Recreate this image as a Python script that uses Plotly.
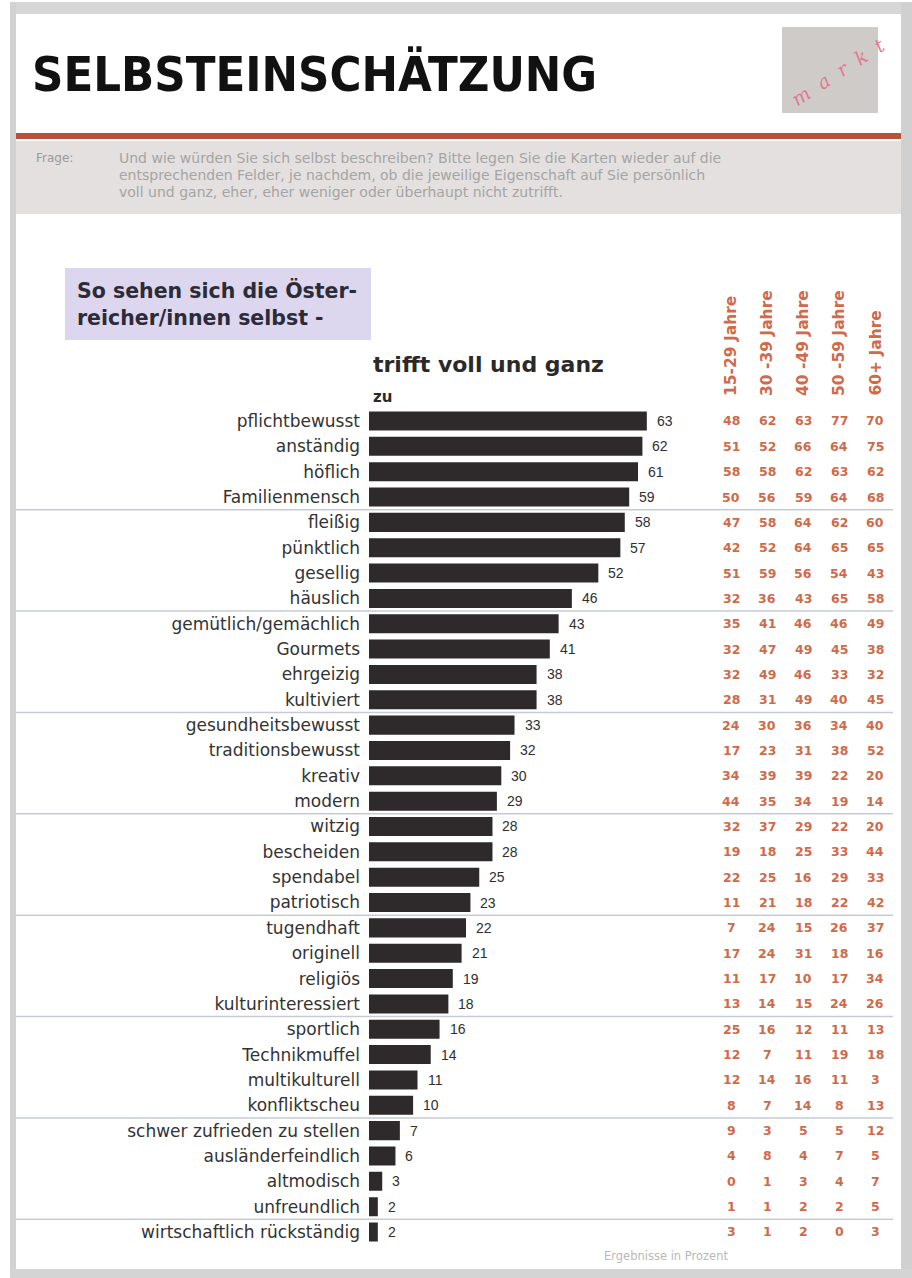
import plotly.graph_objects as go

# ---- data -------------------------------------------------------------
categories = ["pflichtbewusst", "anständig", "höflich", "Familienmensch", "fleißig",
              "pünktlich", "gesellig", "häuslich", "gemütlich/gemächlich", "Gourmets",
              "ehrgeizig", "kultiviert", "gesundheitsbewusst", "traditionsbewusst",
              "kreativ", "modern", "witzig", "bescheiden", "spendabel", "patriotisch",
              "tugendhaft", "originell", "religiös", "kulturinteressiert", "sportlich",
              "Technikmuffel", "multikulturell", "konfliktscheu",
              "schwer zufrieden zu stellen", "ausländerfeindlich", "altmodisch",
              "unfreundlich", "wirtschaftlich rückständig"]
total = [63, 62, 61, 59, 58, 57, 52, 46, 43, 41, 38, 38, 33, 32, 30, 29, 28, 28, 25,
         23, 22, 21, 19, 18, 16, 14, 11, 10, 7, 6, 3, 2, 2]

age_groups = ["15-29 Jahre", "30 -39 Jahre", "40 -49 Jahre", "50 -59 Jahre", "60+ Jahre"]
age_15_29 = [48, 51, 58, 50, 47, 42, 51, 32, 35, 32, 32, 28, 24, 17, 34, 44, 32, 19, 22,
             11, 7, 17, 11, 13, 25, 12, 12, 8, 9, 4, 0, 1, 3]
age_30_39 = [62, 52, 58, 56, 58, 52, 59, 36, 41, 47, 49, 31, 30, 23, 39, 35, 37, 18, 25,
             21, 24, 24, 17, 14, 16, 7, 14, 7, 3, 8, 1, 1, 1]
age_40_49 = [63, 66, 62, 59, 64, 64, 56, 43, 46, 49, 46, 49, 36, 31, 39, 34, 29, 25, 16,
             18, 15, 31, 10, 15, 12, 11, 16, 14, 5, 4, 3, 2, 2]
age_50_59 = [77, 64, 63, 64, 62, 65, 54, 65, 46, 45, 33, 40, 34, 38, 22, 19, 22, 33, 29,
             22, 26, 18, 17, 24, 11, 19, 11, 8, 5, 7, 4, 2, 0]
age_60_plus = [70, 75, 62, 68, 60, 65, 43, 58, 49, 38, 32, 45, 40, 52, 20, 14, 20, 44, 33,
               42, 37, 16, 34, 26, 13, 18, 3, 13, 12, 5, 7, 5, 3]
age_values = [age_15_29, age_30_39, age_40_49, age_50_59, age_60_plus]

title = "SELBSTEINSCHÄTZUNG"
question_lines = [
    "Und wie würden Sie sich selbst beschreiben? Bitte legen Sie die Karten wieder auf die",
    "entsprechenden Felder, je nachdem, ob die jeweilige Eigenschaft auf Sie persönlich",
    "voll und ganz, eher, eher weniger oder überhaupt nicht zutrifft.",
]
subtitle = "So sehen sich die Öster-<br>reicher/innen selbst -"
bar_heading = "trifft voll und ganz"
footnote = "Ergebnisse in Prozent"

# ---- page geometry (pixels -> paper) ------------------------------------
W, H = 912, 1278


def px(x):
    return x / W


def py(y):
    return 1 - y / H


ROW_TOP, ROW_BOTTOM = 421, 1232          # centres of the first and last bar rows
n = len(categories)
step = (ROW_BOTTOM - ROW_TOP) / (n - 1)
plot_top = ROW_TOP - step / 2
plot_bottom = ROW_BOTTOM + step / 2
BAR_LEFT, BAR_RIGHT = 369, 700
UNIT = 4.41                               # pixels per percent
col_x = [731, 767, 803, 839, 875]

ORANGE = "#cf6a4a"
DARK = "#2e2a2b"
LABEL_FONT = "DejaVu Sans"

fig = go.Figure()
fig.add_trace(go.Bar(
    x=total, y=categories, orientation="h",
    marker=dict(color=DARK, line=dict(width=0)),
    width=0.75, hoverinfo="x+y",
))

annotations = []
# value at the end of every bar
for cat, v in zip(categories, total):
    annotations.append(dict(x=v, y=cat, xref="x", yref="y", text=str(v),
                            showarrow=False, xanchor="left", xshift=8,
                            font=dict(family="Liberation Sans", size=14, color="#2f2f2f")))
# table of age groups
for cx, vals in zip(col_x, age_values):
    for cat, v in zip(categories, vals):
        annotations.append(dict(x=px(cx), y=cat, xref="paper", yref="y", text=str(v),
                                showarrow=False, xanchor="center",
                                font=dict(family="DejaVu Sans", size=12.5, color=ORANGE,
                                          weight="bold")))
for cx, label in zip(col_x, age_groups):
    annotations.append(dict(x=px(cx), y=py(398), xref="paper", yref="paper", text=label,
                            textangle=-90, showarrow=False, xanchor="center",
                            yanchor="bottom",
                            font=dict(family="DejaVu Sans", size=15.5, color=ORANGE,
                                      weight="bold")))

# question block, one line per annotation
for i, line in enumerate(question_lines):
    annotations.append(dict(x=px(117), y=py(158 + 17 * i), xref="paper", yref="paper",
                            text=line, showarrow=False, xanchor="left", yanchor="middle",
                            font=dict(family=LABEL_FONT, size=14, color="#a5a5a5")))

# headings and texts
annotations += [
    dict(x=px(30), y=py(74), xref="paper", yref="paper", text=title, showarrow=False,
         xanchor="left", yanchor="middle",
         font=dict(family="DejaVu Sans Condensed, sans-serif",
                   size=48.5, color="#111111", weight="bold")),
    dict(x=px(34), y=py(158), xref="paper", yref="paper", text="Frage:", showarrow=False,
         xanchor="left", yanchor="middle",
         font=dict(family=LABEL_FONT, size=12, color="#9a9a9a")),
    dict(x=px(75), y=py(304), xref="paper", yref="paper", text=subtitle, showarrow=False,
         xanchor="left", yanchor="middle", align="left",
         font=dict(family=LABEL_FONT, size=20.5, color="#2d2b38", weight="bold")),
    dict(x=px(371), y=py(364), xref="paper", yref="paper", text=bar_heading,
         showarrow=False, xanchor="left", yanchor="middle",
         font=dict(family=LABEL_FONT, size=22, color="#2a2a2a", weight="bold")),
    dict(x=px(371), y=py(397), xref="paper", yref="paper", text="zu",
         showarrow=False, xanchor="left", yanchor="middle",
         font=dict(family=LABEL_FONT, size=15, color="#2a2a2a", weight="bold")),
    dict(x=px(666), y=py(1256), xref="paper", yref="paper", text=footnote,
         showarrow=False, xanchor="center", yanchor="middle",
         font=dict(family=LABEL_FONT, size=11.5, color="#b8b8b8")),
    dict(x=px(838), y=py(72), xref="paper", yref="paper", text="m  a  r  k  t",
         textangle=-33, showarrow=False, xanchor="center", yanchor="middle",
         font=dict(family="DejaVu Serif", size=19, color="#e07a92", style="italic")),
]

shapes = [
    # frame
    dict(type="rect", xref="paper", yref="paper", x0=px(10), x1=1, y0=py(2), y1=py(14),
         fillcolor="#d6d6d6", line=dict(width=0), layer="below"),
    dict(type="rect", xref="paper", yref="paper", x0=px(10), x1=px(16), y0=0, y1=py(2),
         fillcolor="#d2d2d2", line=dict(width=0), layer="below"),
    dict(type="rect", xref="paper", yref="paper", x0=px(901), x1=1, y0=0, y1=py(2),
         fillcolor="#d0d0d0", line=dict(width=0), layer="below"),
    dict(type="rect", xref="paper", yref="paper", x0=px(10), x1=1, y0=0, y1=py(1269),
         fillcolor="#d4d4d4", line=dict(width=0), layer="below"),
    # logo tile
    dict(type="rect", xref="paper", yref="paper", x0=px(782), x1=px(878), y0=py(113),
         y1=py(27), fillcolor="#cfcbc8", line=dict(width=0), layer="below"),
    # red rule and question band
    dict(type="rect", xref="paper", yref="paper", x0=px(16), x1=px(901), y0=py(139),
         y1=py(133), fillcolor="#b9503a", line=dict(width=0), layer="below"),
    dict(type="rect", xref="paper", yref="paper", x0=px(16), x1=px(901), y0=py(214),
         y1=py(141), fillcolor="#e3e0df", line=dict(width=0), layer="below"),
    # subtitle box
    dict(type="rect", xref="paper", yref="paper", x0=px(65), x1=px(371), y0=py(340),
         y1=py(268), fillcolor="#dcd7ee", line=dict(width=0), layer="below"),
]
# thin separators after every fourth row
for k in range(4, n, 4):
    shapes.append(dict(type="line", xref="paper", yref="y", x0=px(16), x1=px(893),
                       y0=k - 0.5, y1=k - 0.5,
                       line=dict(color="#c6cbd7", width=1.5), layer="below"))

fig.update_layout(
    width=W, height=H,
    margin=dict(l=0, r=0, t=0, b=0),
    paper_bgcolor="#ffffff", plot_bgcolor="rgba(0,0,0,0)",
    showlegend=False, bargap=0.25,
    xaxis=dict(domain=[px(BAR_LEFT), px(BAR_RIGHT)],
               range=[0, (BAR_RIGHT - BAR_LEFT) / UNIT],
               visible=False, fixedrange=True),
    yaxis=dict(domain=[py(plot_bottom), py(plot_top)], type="category",
               categoryorder="array", categoryarray=categories,
               autorange="reversed", showgrid=False, zeroline=False, showline=False,
               ticks="", ticklabelstandoff=8,
               tickfont=dict(family=LABEL_FONT, size=17, color="#333333"),
               fixedrange=True),
    annotations=annotations,
    shapes=shapes,
)

fig.write_html("out.html")
